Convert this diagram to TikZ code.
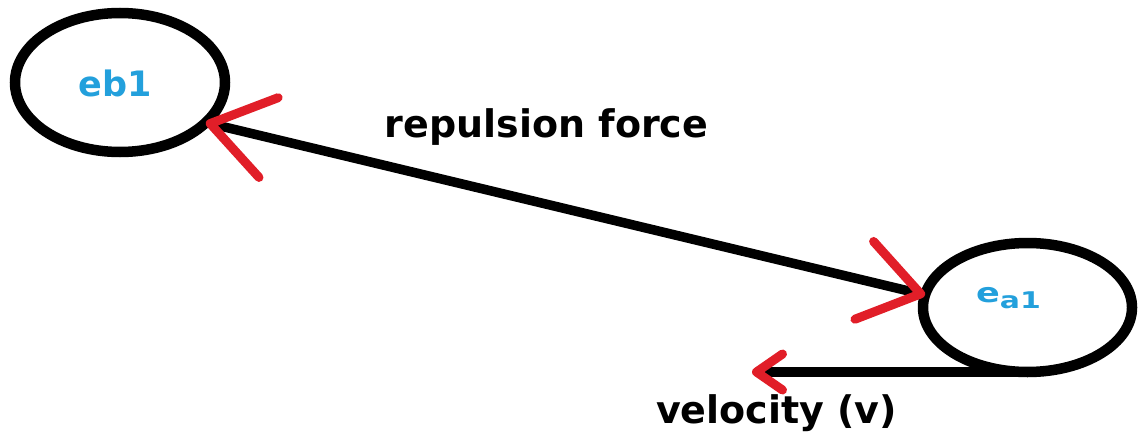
\documentclass[tikz,border=0pt]{standalone}
\usepackage{fontspec}
\setmainfont{DejaVu Sans}
\usetikzlibrary{arrows.meta,shapes.geometric}
\definecolor{arrred}{RGB}{225,30,40}
\definecolor{lblblue}{RGB}{35,160,220}
\begin{document}
\begin{tikzpicture}[x=1pt,y=-1pt,
  particle/.style={draw=black, line width=10.5pt, ellipse, inner sep=0pt, outer sep=0pt},
  lbl/.style={font=\bfseries, text=lblblue, inner sep=0pt, anchor=base},
  force/.style={line width=9.5pt, black,
    {Straight Barb[color=arrred, length=60pt, width=82pt, line width=9pt, round]}-{Straight Barb[color=arrred, length=58pt, width=80pt, line width=9pt, round]}},
  vel/.style={line width=10pt, black,
    -{Straight Barb[color=arrred, length=26pt, width=36pt, line width=9pt, round]}},
  txt/.style={font=\fontsize{38}{44}\selectfont\bfseries, inner sep=0pt, anchor=base}
]
\useasboundingbox (0,0) rectangle (1139,441);
\node[particle, minimum width=210pt, minimum height=139pt] (eb1) at (120,82.5) {};
\node[lbl] (eb1lbl) at (115,97) {\fontsize{35}{40}\selectfont eb1};
\node[particle, minimum width=209pt, minimum height=129pt] (ea1) at (1027.5,307.5) {};
\node[lbl] (ea1lbl) at (1008.5,302) {\scalebox{1.3}[1]{\fontsize{27}{32}\selectfont e\fontsize{23}{27}\selectfont\raisebox{-6pt}{a1}}};
\draw[force] (eb1.-25) -- (ea1.173);
\coordinate (vend) at (752,372);
\draw[vel] (ea1.south) -- (vend);
\node[txt] (rf) at (546.5,137) {repulsion force};
\node[txt] (vl) at (776.5,423) {velocity (v)};
\end{tikzpicture}
\end{document}
